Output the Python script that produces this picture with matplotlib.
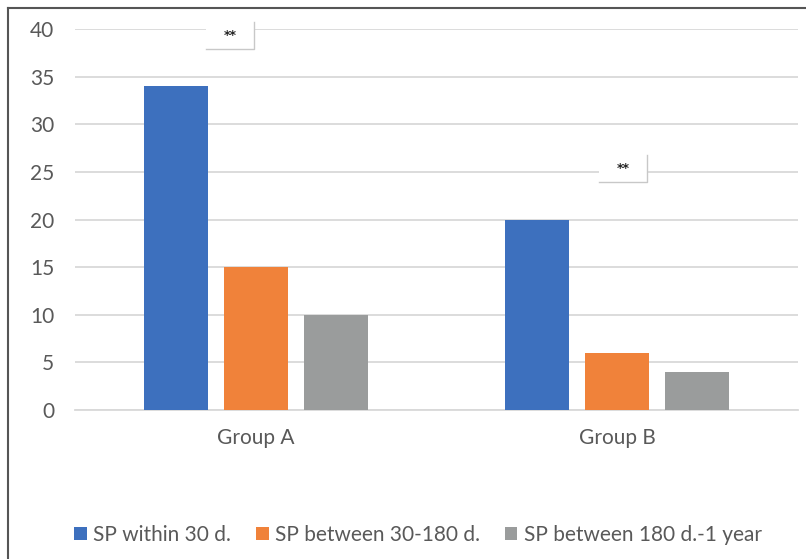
import numpy as np
import matplotlib.pyplot as plt
from matplotlib.patches import Rectangle
from matplotlib.lines import Line2D

plt.rcParams['font.family'] = ['Lato', 'DejaVu Sans']

groups = ['Group A', 'Group B']
series_names = ['SP within 30 d.', 'SP between 30-180 d.', 'SP between 180 d.-1 year']
within_30 = [34, 20]
between_30_180 = [15, 6]
between_180_1y = [10, 4]
colors = ['#3D70BE', '#F0823A', '#9A9C9C']
sig_marks = ['**', '**']

fig = plt.figure(figsize=(8.06, 5.59), dpi=100)
ax = fig.add_axes([75 / 806, 149 / 559, 723 / 806, 381 / 559])

x = np.arange(len(groups))
width = 0.177
step = 0.221
for i, (vals, name) in enumerate(zip([within_30, between_30_180, between_180_1y], series_names)):
    ax.bar(x + (i - 1) * step, vals, width, color=colors[i], label=name, zorder=3)

ax.set_xlim(-0.5, 1.5)
ax.set_ylim(0, 40)
ax.set_yticks(range(0, 41, 5))
ax.set_xticks(x)
ax.set_xticklabels(groups)
ax.yaxis.grid(True, color='#d9d9d9', linewidth=1.3, zorder=0)
ax.set_axisbelow(True)
for s in ['top', 'right', 'left']:
    ax.spines[s].set_visible(False)
ax.spines['bottom'].set_color('#d9d9d9')
ax.spines['bottom'].set_linewidth(1.3)
ax.tick_params(axis='both', length=0, labelsize=15, labelcolor='#595959')
ax.tick_params(axis='y', pad=15)
ax.tick_params(axis='x', pad=13)

# significance boxes (white label boxes with a light edge on right/bottom)
box_pos = [(-0.138, 37.9), (0.950, 23.95)]
bw, bh = 0.133, 2.85
for (bx, by), mark in zip(box_pos, sig_marks):
    ax.add_patch(Rectangle((bx, by), bw, bh, facecolor='white', edgecolor='none',
                           zorder=4, clip_on=False))
    ax.plot([bx, bx + bw, bx + bw], [by, by, by + bh], color='#c8c8c8',
            linewidth=1.0, zorder=5, clip_on=False)
    ax.text(bx + bw / 2, by + bh / 2, mark, ha='center', va='center',
            fontsize=9, fontweight='bold', color='#222222', zorder=6, family='DejaVu Sans')

ax.legend(loc='center', bbox_to_anchor=(418 / 806, 1 - 535 / 559),
          bbox_transform=fig.transFigure, ncol=3, frameon=False,
          fontsize=15, labelcolor='#595959', handlelength=0.6, handleheight=0.6,
          handletextpad=0.3, columnspacing=1.2)

# outer chart frame (left and top edges visible)
fig.add_artist(Line2D([8 / 806, 8 / 806], [0, 1 - 8 / 559], color='#555555', linewidth=1.5))
fig.add_artist(Line2D([8 / 806, 1], [1 - 8 / 559, 1 - 8 / 559], color='#555555', linewidth=1.5))

fig.savefig('out.png', dpi=100)
